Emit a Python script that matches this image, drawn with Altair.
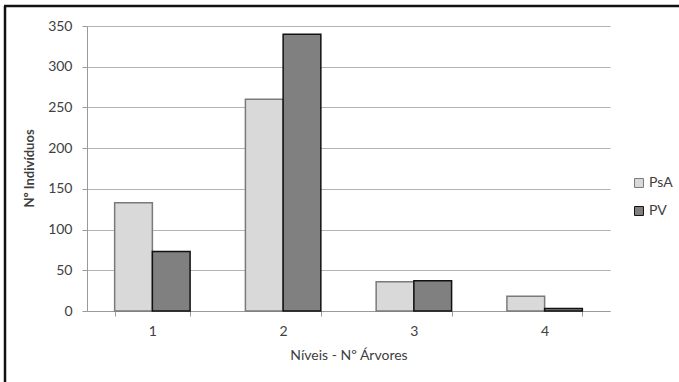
import altair as alt
import pandas as pd

# Counts of individuals per level (number of trees), for each group
niveis = ["1", "2", "3", "4"]
series = ["PsA", "PV"]
psa = [133, 260, 36, 18]
pv = [73, 340, 37, 3]

rows = []
for i, n in enumerate(niveis):
    rows.append({"nivel": n, "serie": "PsA", "valor": psa[i]})
    rows.append({"nivel": n, "serie": "PV", "valor": pv[i]})
df = pd.DataFrame(rows)

FONT = "Lato"
GRID = "#b3b3b3"
AXIS = "#9a9a9a"
TEXT = "#404040"

bars = alt.Chart(df).mark_bar(strokeWidth=1.5).encode(
    x=alt.X(
        "nivel:N",
        sort=niveis,
        scale=alt.Scale(paddingInner=0.423, paddingOuter=0.2115),
        axis=alt.Axis(
            title="Níveis - Nº Árvores",
            labelAngle=0,
            tickBand="extent",
            tickSize=5,
            labelPadding=8,
            titleY=48,
            titleBaseline="alphabetic",
            titleFontWeight="normal",
            titleFontSize=14,
        ),
    ),
    xOffset=alt.XOffset(
        "serie:N", sort=series, scale=alt.Scale(paddingInner=0, paddingOuter=0)
    ),
    y=alt.Y(
        "valor:Q",
        scale=alt.Scale(domain=[0, 350], nice=False),
        axis=alt.Axis(
            title="Nº Indivíduos",
            values=list(range(0, 351, 50)),
            tickSize=5,
            labelPadding=10,
            grid=True,
            titleX=-51,
            titleY=142,
            titleFontWeight="bold",
            titleFontSize=13,
        ),
    ),
    color=alt.Color(
        "serie:N",
        sort=series,
        scale=alt.Scale(domain=series, range=["#d9d9d9", "#808080"]),
        legend=alt.Legend(
            title=None,
            orient="none",
            legendX=545,
            legendY=150,
            symbolType="square",
            symbolSize=80,
            symbolStrokeWidth=1,
            rowPadding=14,
            labelFontSize=14,
            labelOffset=3,
        ),
    ),
    stroke=alt.Stroke(
        "serie:N",
        sort=series,
        scale=alt.Scale(domain=series, range=["#7a7a7a", "#111111"]),
        legend=alt.Legend(
            title=None,
            orient="none",
            legendX=545,
            legendY=150,
            symbolType="square",
            symbolSize=80,
            rowPadding=14,
            labelFontSize=14,
            labelOffset=3,
        ),
    ),
)

# Outer frame of the figure (left and top edges)
frame_data = alt.Data(values=[{}])
frame_left = alt.Chart(frame_data).mark_rule(color="#111111", strokeWidth=2.5).encode(
    x=alt.value(-82), y=alt.value(-20), y2=alt.value(400)
)
frame_top = alt.Chart(frame_data).mark_rule(color="#111111", strokeWidth=2.5).encode(
    x=alt.value(-83), x2=alt.value(700), y=alt.value(-20)
)

chart = (
    alt.layer(bars, frame_left, frame_top)
    .properties(
        width=523,
        height=285,
        autosize=alt.AutoSizeParams(type="none"),
        padding={"left": 87, "top": 26, "right": 69, "bottom": 71},
        background="white",
    )
    .configure_view(stroke=None)
    .configure_axis(
        labelFont=FONT,
        titleFont=FONT,
        labelFontSize=14,
        labelColor=TEXT,
        titleColor=TEXT,
        domainColor=AXIS,
        tickColor=AXIS,
        gridColor=GRID,
        domainWidth=1,
        tickWidth=1,
    )
    .configure_legend(labelFont=FONT, labelColor=TEXT)
)

chart.save("out.html", embed_options={"renderer": "svg", "actions": False})
